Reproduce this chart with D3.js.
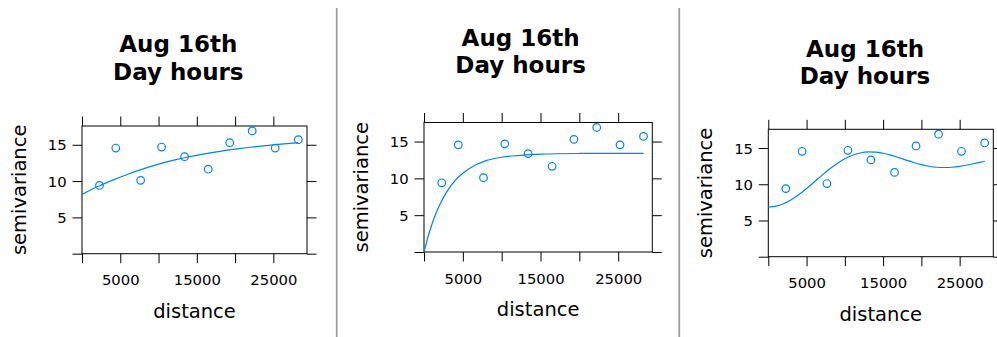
<!DOCTYPE html>
<html>
<head>
<meta charset="utf-8">
<script src="https://cdn.jsdelivr.net/npm/d3@7"></script>
<style>
  html, body { margin: 0; padding: 0; background: #fff; }
  svg { display: block; font-family: "DejaVu Sans", sans-serif; }
</style>
</head>
<body>
<svg id="chart" width="997" height="337"></svg>
<script>
// Empirical semivariogram (same sample in all three panels)
const dist  = [2285, 4417, 7659, 10400, 13403, 16492, 19299, 22236, 25239, 28263];
const gamma = [9.40, 14.55, 10.10, 14.69, 13.36, 11.64, 15.29, 16.91, 14.55, 15.70];

// Fitted model curves, sampled along distance
const fitDist1  = [0, 2000, 4000, 6000, 8000, 10000, 12000, 14000, 16000, 18000, 20000, 22000, 24000, 26000, 28000, 28263];
const fitGamma1 = [8.17, 9.22, 10.14, 10.95, 11.68, 12.33, 12.88, 13.35, 13.75, 14.10, 14.40, 14.66, 14.89, 15.10, 15.27, 15.30];

const fitDist2  = [0, 500, 1000, 1500, 2000, 3000, 4000, 5000, 6000, 8000, 10000, 12000, 15000, 20000, 25000, 28263];
const fitGamma2 = [0, 2.0, 3.7, 5.15, 6.36, 8.3, 9.7, 10.7, 11.45, 12.4, 12.87, 13.1, 13.3, 13.38, 13.4, 13.4];

const fitDist3  = [0, 1000, 2000, 3000, 4000, 5000, 6000, 7000, 8000, 9000, 10000, 11000, 12000, 13000, 14000,
                   15000, 16000, 17000, 18000, 19000, 20000, 21000, 22000, 23000, 24000, 25000, 26000, 27000, 28000, 28263];
const fitGamma3 = [6.85, 6.97, 7.31, 7.86, 8.58, 9.42, 10.32, 11.23, 12.10, 12.88, 13.52, 14.01, 14.32, 14.46, 14.44,
                   14.28, 14.02, 13.69, 13.34, 13.00, 12.71, 12.49, 12.35, 12.31, 12.35, 12.48, 12.66, 12.88, 13.11, 13.17];

// Axis ticks and labels
const xTicks = [0, 5000, 10000, 15000, 20000, 25000];
const xTickLabels = ["", "5000", "", "15000", "", "25000"];
const yTicks = [0, 5, 10, 15];
const yTickLabels = ["", "5", "10", "15"];

const titleLines = ["Aug 16th", "Day hours"];
const xLabel = "distance";
const yLabel = "semivariance";

const blue = "#0080ff";

const panels = [
  { left: 82,    top: 126,   w: 225,   h: 127.7, titleX: 178.3, titleY: 52.3, fitX: fitDist1, fitY: fitGamma1 },
  { left: 424,   top: 122.5, w: 228.3, h: 129.5, titleX: 520.6, titleY: 45.8, fitX: fitDist2, fitY: fitGamma2 },
  { left: 768.3, top: 129.3, w: 225,   h: 127.4, titleX: 865,   titleY: 56.5, fitX: fitDist3, fitY: fitGamma3 }
];

const svg = d3.select("#chart");

// Panel separators
[336.7, 679.3].forEach(x => {
  svg.append("line")
    .attr("x1", x).attr("x2", x).attr("y1", 8).attr("y2", 337)
    .attr("stroke", "#9a9a9a").attr("stroke-width", 1.7);
});

const xMax = d3.max(dist) * 1.04;
const yMax = d3.max(gamma) * 1.04;

panels.forEach(p => {
  const g = svg.append("g").attr("transform", `translate(${p.left},${p.top})`);
  const x = d3.scaleLinear().domain([0, xMax]).range([0, p.w]);
  const y = d3.scaleLinear().domain([0, yMax]).range([p.h, 0]);

  const tick = 9.5;
  const styleAxis = sel => {
    sel.select(".domain").remove();
    sel.selectAll(".tick line").attr("stroke", "#000").attr("stroke-width", 1);
    sel.selectAll(".tick text").attr("fill", "#000");
  };

  // bottom
  g.append("g").attr("transform", `translate(0,${p.h})`)
    .call(d3.axisBottom(x).tickValues(xTicks).tickSizeOuter(0).tickSize(tick)
      .tickFormat((d, i) => xTickLabels[i]))
    .call(styleAxis)
    .call(sel => sel.selectAll(".tick text").attr("y", 31.5).attr("dy", null)
      .attr("font-size", "14.8px").attr("font-family", "DejaVu Sans"));
  // top
  g.append("g")
    .call(d3.axisTop(x).tickValues(xTicks).tickSizeOuter(0).tickSize(tick).tickFormat(""))
    .call(styleAxis);
  // left
  g.append("g")
    .call(d3.axisLeft(y).tickValues(yTicks).tickSizeOuter(0).tickSize(tick)
      .tickFormat((d, i) => yTickLabels[i]))
    .call(styleAxis)
    .call(sel => sel.selectAll(".tick text").attr("x", -15.3).attr("dy", "0.34em")
      .attr("font-size", "14.8px").attr("font-family", "DejaVu Sans"));
  // right
  g.append("g").attr("transform", `translate(${p.w},0)`)
    .call(d3.axisRight(y).tickValues(yTicks).tickSizeOuter(0).tickSize(tick).tickFormat(""))
    .call(styleAxis);

  // panel box
  g.append("rect").attr("x", 0).attr("y", 0).attr("width", p.w).attr("height", p.h)
    .attr("fill", "none").attr("stroke", "#000").attr("stroke-width", 1);

  // fitted model
  const line = d3.line().x(d => x(d[0])).y(d => y(d[1])).curve(d3.curveMonotoneX);
  g.append("path")
    .datum(p.fitX.map((d, i) => [d, p.fitY[i]]))
    .attr("d", line)
    .attr("fill", "none").attr("stroke", blue).attr("stroke-width", 1.2);

  // sample points
  g.selectAll("circle.pt").data(dist.map((d, i) => [d, gamma[i]])).enter()
    .append("circle").attr("class", "pt")
    .attr("cx", d => x(d[0])).attr("cy", d => y(d[1])).attr("r", 3.8)
    .attr("fill", "none").attr("stroke", blue).attr("stroke-width", 1.2);

  // axis titles
  g.append("text")
    .attr("x", p.w / 2).attr("y", p.h + 64)
    .attr("text-anchor", "middle").attr("font-size", "19.5px").attr("fill", "#000")
    .text(xLabel);
  g.append("text")
    .attr("transform", `translate(-56,${p.h / 2}) rotate(-90)`)
    .attr("text-anchor", "middle").attr("font-size", "19.5px").attr("fill", "#000")
    .text(yLabel);

  // panel title
  const t = svg.append("text")
    .attr("x", p.titleX).attr("y", p.titleY)
    .attr("text-anchor", "middle").attr("font-size", "23px").attr("font-weight", "bold")
    .attr("fill", "#000");
  titleLines.forEach((s, i) => {
    t.append("tspan").attr("x", p.titleX).attr("dy", i === 0 ? 0 : 27.6).text(s);
  });
});
</script>
</body>
</html>
